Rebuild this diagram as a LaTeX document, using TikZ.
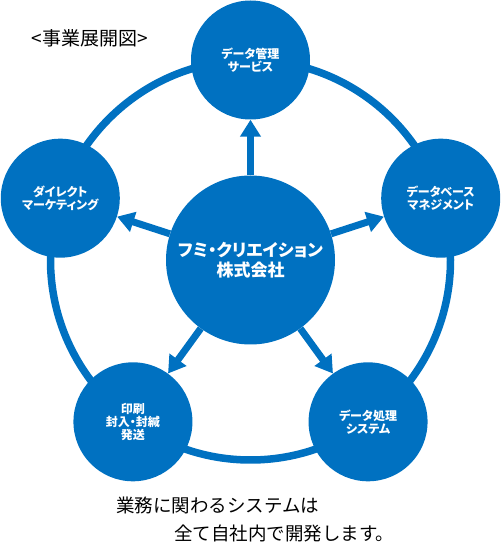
\documentclass[tikz,border=0pt]{standalone}
\usepackage{fontspec}
\usepackage{xcolor}
\usepackage{tikz}
\usetikzlibrary{arrows.meta,positioning}
\setmainfont{Noto Sans CJK JP}
\newfontfamily\circlefont[RawFeature=+palt]{Noto Sans CJK JP}
\definecolor{fumiblue}{HTML}{0071C1}

\begin{document}
\begin{tikzpicture}[
    x=1pt, y=1pt,
    hub/.style={circle, fill=fumiblue, minimum size=169pt, inner sep=0pt, align=center, text=white, font=\circlefont\bfseries\fontsize{17}{20}\selectfont},
    field/.style={circle, fill=fumiblue, minimum size=119pt, inner sep=0pt, align=center, text=white, font=\circlefont\bfseries\fontsize{12}{13}\selectfont},
    ring/.style={draw=fumiblue, line width=7.5pt},
    arr/.style={-{Triangle[length=17pt, width=20pt]}, draw=fumiblue, line width=7pt},
    note/.style={inner sep=0pt, font=\fontsize{18.5}{20}\selectfont}
]
\useasboundingbox (0,0) rectangle (501,552);
\node[hub] (core) at (250.5,292) {フミ・クリエイション\\株式会社};
\draw[ring] (core.center) circle[radius=200];
\node[field] (dms) at ([shift={(90:200)}]core.center) {データ管理\\サービス};
\node[field] (dbm) at ([shift={(18:200)}]core.center) {データベース\\マネジメント};
\node[field] (dps) at ([shift={(-54:200)}]core.center) {データ処理\\システム};
\node[field] (prt) at ([shift={(234:200)}]core.center) {印刷\\封入・封緘\\発送};
\node[field] (dmk) at ([shift={(162:200)}]core.center) {ダイレクト\\マーケティング};
\draw[arr] (core) -- (dms);
\draw[arr] (core) -- (dbm);
\draw[arr] (core) -- (dps);
\draw[arr] (core) -- (prt);
\draw[arr] (core) -- (dmk);
\node[font=\fontsize{19}{20}\selectfont] (title) at (90,513.5) {<事業展開図>};
\node[note, anchor=west] (line1) at (116,47) {業務に関わるシステムは};
\node[note, anchor=west] (line2) at (174,19) {全て自社内で開発します。};
\end{tikzpicture}
\end{document}
